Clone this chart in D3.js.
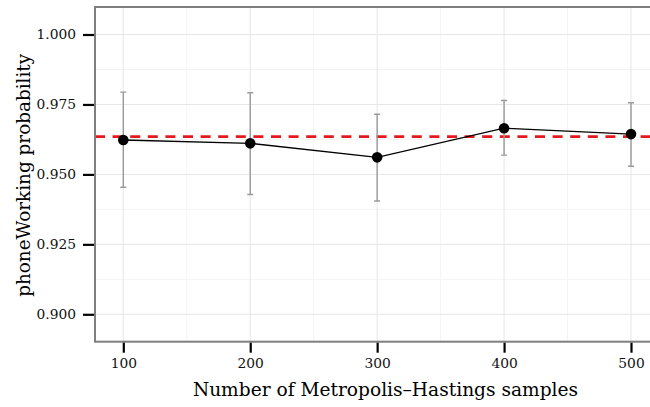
<!DOCTYPE html>
<html>
<head>
<meta charset="utf-8">
<style>
  body { margin: 0; background: #fff; }
  svg { display: block; font-family: "DejaVu Serif", serif; }
</style>
</head>
<body>
<svg class="chart"></svg>

<script src="https://d3js.org/d3.v7.min.js"></script>
<script>
// samples on the x axis, posterior mean and interval ends per run
samples = [100, 200, 300, 400, 500]
prob    = [0.9623, 0.9611, 0.9561, 0.9665, 0.9644]
lower   = [0.9454, 0.9428, 0.9405, 0.9569, 0.9529]
upper   = [0.9794, 0.9792, 0.9715, 0.9764, 0.9756]
trueProb = 0.9635
yTicks  = [0.900, 0.925, 0.950, 0.975, 1.000]

data = samples.map((s, i) => ({s, p: prob[i], lo: lower[i], hi: upper[i]}))

width  = 650
height = 407
panel = ({left: 95, top: 7, right: 659, bottom: 341.7})

x = d3.scaleLinear()
    .domain([100, 500])
    .range([123.3, 631])

y = d3.scaleLinear()
    .domain([0.9, 1.0])
    .range([314.3, 34.5])

const svg = d3.select("svg")
    .attr("width", width)
    .attr("height", height)
    .attr("viewBox", [0, 0, width, height]);

// minor grid
const xMinor = [150, 250, 350, 450]
const yMinor = [0.8875, 0.9125, 0.9375, 0.9625, 0.9875]
svg.append("g")
    .attr("stroke", "#f4f4f4")
    .attr("stroke-width", 1)
    .call(g => g.selectAll("line.v").data(xMinor).join("line")
        .attr("x1", d => x(d)).attr("x2", d => x(d))
        .attr("y1", panel.top).attr("y2", panel.bottom))
    .call(g => g.selectAll("line.h").data(yMinor.filter(d => y(d) > panel.top && y(d) < panel.bottom)).join("line")
        .attr("y1", d => y(d)).attr("y2", d => y(d))
        .attr("x1", panel.left).attr("x2", panel.right));

// major grid
svg.append("g")
    .attr("stroke", "#e6e6e6")
    .attr("stroke-width", 1)
    .call(g => g.selectAll("line.v").data(samples).join("line")
        .attr("x1", d => x(d)).attr("x2", d => x(d))
        .attr("y1", panel.top).attr("y2", panel.bottom))
    .call(g => g.selectAll("line.h").data(yTicks).join("line")
        .attr("y1", d => y(d)).attr("y2", d => y(d))
        .attr("x1", panel.left).attr("x2", panel.right));

// reference line
svg.append("line")
    .attr("x1", panel.left).attr("x2", panel.right)
    .attr("y1", y(trueProb)).attr("y2", y(trueProb))
    .attr("stroke", "#e3191c")
    .attr("stroke-width", 2.6)
    .attr("stroke-dasharray", "10,7.6");

// error bars
const eb = svg.append("g")
    .attr("stroke", "#9a9a9a")
    .attr("stroke-width", 1.4)
    .attr("fill", "none");
eb.selectAll("path")
  .data(data)
  .join("path")
    .attr("d", d => `M${x(d.s) - 3},${y(d.hi)}H${x(d.s) + 3}M${x(d.s)},${y(d.hi)}V${y(d.lo)}M${x(d.s) - 3},${y(d.lo)}H${x(d.s) + 3}`);

// line + points
svg.append("path")
    .datum(data)
    .attr("fill", "none")
    .attr("stroke", "#000")
    .attr("stroke-width", 1.3)
    .attr("d", d3.line().x(d => x(d.s)).y(d => y(d.p)));

svg.append("g")
  .selectAll("circle")
  .data(data)
  .join("circle")
    .attr("cx", d => x(d.s))
    .attr("cy", d => y(d.p))
    .attr("r", 5.3)
    .attr("fill", "#000");

// panel border
svg.append("rect")
    .attr("x", panel.left).attr("y", panel.top)
    .attr("width", panel.right - panel.left)
    .attr("height", panel.bottom - panel.top)
    .attr("fill", "none")
    .attr("stroke", "#7f7f7f")
    .attr("stroke-width", 2);

// axes
xAxis = g => g
    .attr("transform", `translate(0,${panel.bottom + 1})`)
    .call(d3.axisBottom(x).tickValues(samples).tickSize(10).tickPadding(6).tickFormat(d3.format("d")))
    .call(g => g.select(".domain").remove())
    .call(g => g.selectAll(".tick line").attr("stroke", "#000").attr("stroke-width", 2.2))
    .call(g => g.selectAll(".tick text").attr("fill", "#111")
        .attr("font-family", "DejaVu Serif").attr("font-size", 13.8));

yAxis = g => g
    .attr("transform", `translate(${panel.left - 1},0)`)
    .call(d3.axisLeft(y).tickValues(yTicks).tickSize(11).tickPadding(7).tickFormat(d3.format(".3f")))
    .call(g => g.select(".domain").remove())
    .call(g => g.selectAll(".tick line").attr("stroke", "#000").attr("stroke-width", 2.2))
    .call(g => g.selectAll(".tick text").attr("fill", "#111")
        .attr("font-family", "DejaVu Serif").attr("font-size", 13.8));

svg.append("g").call(xAxis);
svg.append("g").call(yAxis);

// titles
svg.append("text")
    .attr("x", (193 + 578) / 2)
    .attr("y", 396)
    .attr("text-anchor", "middle")
    .attr("font-size", 18.6)
    .attr("fill", "#000")
    .text("Number of Metropolis–Hastings samples");

svg.append("text")
    .attr("transform", `translate(29.5,${(panel.top + panel.bottom) / 2 + 1}) rotate(-90)`)
    .attr("text-anchor", "middle")
    .attr("font-size", 18.4)
    .attr("fill", "#000")
    .text("phoneWorking probability");
</script>
</body>
</html>
